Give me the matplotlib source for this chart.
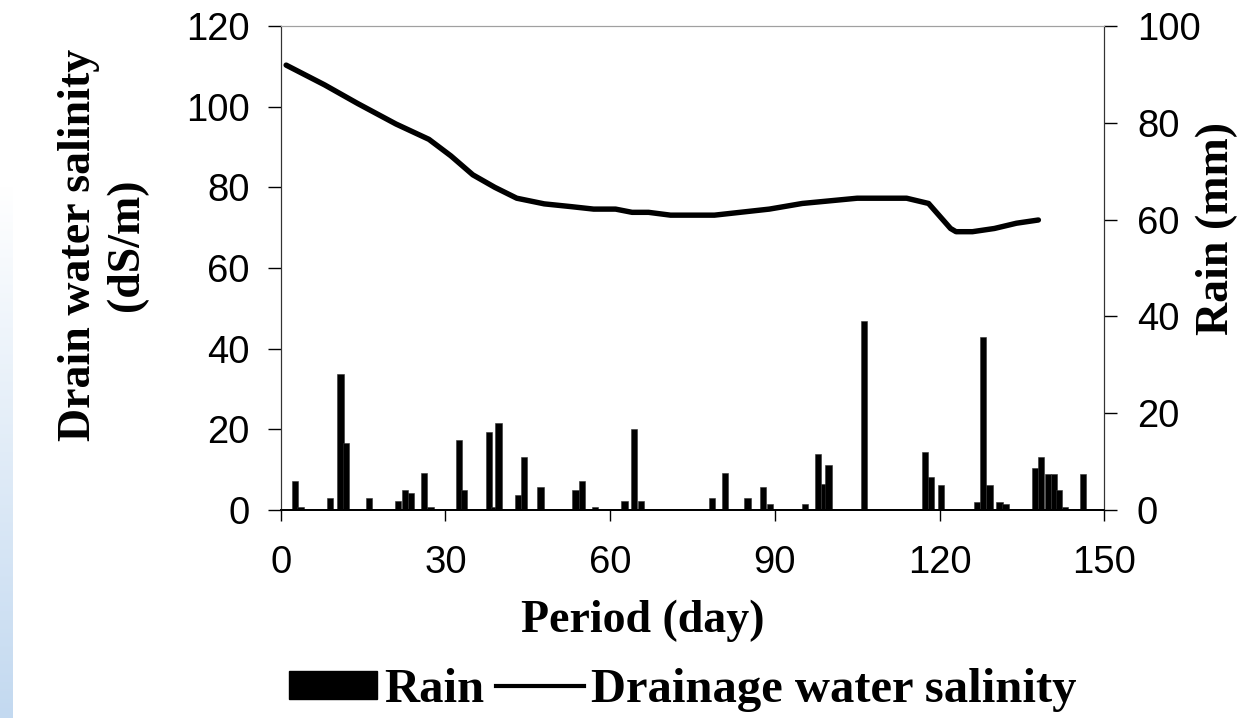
import matplotlib
matplotlib.use("Agg")
import matplotlib.pyplot as plt
import numpy as np
from matplotlib.patches import Patch
from matplotlib.lines import Line2D
from matplotlib.colors import LinearSegmentedColormap

# rain (mm), daily bars
rain_day = [2.6, 3.6, 9.0, 10.9, 11.95, 16.1, 21.4, 22.6, 23.8, 26.1, 27.3,
            32.5, 33.4, 37.9, 38.9, 39.7, 43.2, 44.3, 47.3, 53.7, 54.9, 57.3,
            62.6, 64.3, 65.6, 78.5, 80.9, 85.0, 87.9, 89.1, 95.5, 97.9, 98.9,
            99.8, 106.2, 117.3, 118.4, 120.3, 126.8, 127.9, 129.1, 130.9,
            132.0, 137.4, 138.5, 139.7, 140.8, 141.7, 142.8, 146.1]
rain_mm = [5.9, 0.7, 2.4, 28.2, 13.9, 2.4, 1.9, 4.1, 3.6, 7.6, 0.7,
           14.5, 4.1, 16.2, 0.7, 17.9, 3.0, 11.0, 4.7, 4.1, 5.9, 0.7,
           1.9, 16.8, 1.9, 2.4, 7.6, 2.4, 4.7, 1.2, 1.2, 11.6, 5.4,
           9.3, 39.1, 12.0, 6.9, 5.2, 1.7, 35.7, 5.2, 1.7,
           1.2, 8.6, 11.0, 7.4, 7.4, 4.1, 0.6, 7.4]

# drainage water salinity (dS/m)
sal_day = [1, 8, 14, 21, 27, 31, 35, 39, 43, 48, 53, 57, 61, 64, 67, 71,
           79, 89, 95, 105, 114, 118, 122, 123, 126, 130, 134, 138]
salinity = [110.3, 105.4, 100.8, 95.7, 91.9, 87.8, 83.1, 80.0, 77.3, 75.9,
            75.2, 74.6, 74.6, 73.8, 73.8, 73.1, 73.1, 74.6, 76.0, 77.3, 77.3,
            76.0, 69.8, 69.0, 69.0, 69.8, 71.1, 71.9]

fig = plt.figure(figsize=(12.58, 7.18), dpi=100)

# pale blue strip on the left edge
strip = fig.add_axes([0, 0, 13 / 1258, 0.74])
pale = LinearSegmentedColormap.from_list("pale", ["#c3d9f0", "#ffffff"])
grad = np.linspace(0, 1, 256).reshape(-1, 1)
strip.imshow(grad, aspect="auto", cmap=pale, origin="lower")
strip.set_axis_off()

ax = fig.add_axes([0.2231, 0.2897, 0.6547, 0.6741])
ax2 = ax.twinx()

ax2.bar(rain_day, rain_mm, width=1.15, color="black", edgecolor="#333333",
        linewidth=0.4)
ax.plot(sal_day, salinity, color="black", lw=3.9, solid_capstyle="round",
        solid_joinstyle="round")

ax.set_zorder(ax2.get_zorder() + 1)
ax.patch.set_visible(False)

ax.set_xlim(0, 150)
ax.set_ylim(0, 120)
ax2.set_ylim(0, 100)
ax.set_xticks([0, 30, 60, 90, 120, 150])
ax.set_yticks(range(0, 121, 20))
ax2.set_yticks(range(0, 101, 20))

for lab in ax.get_xticklabels() + ax.get_yticklabels() + ax2.get_yticklabels():
    lab.set_fontfamily("Liberation Sans")
    lab.set_fontsize(27.5)

ax.tick_params(axis="y", direction="out", length=9.5, width=1, pad=13)
ax.tick_params(axis="x", direction="out", length=8, width=1, pad=17)
ax2.tick_params(axis="y", direction="out", length=9.5, width=1, pad=14)

for a in (ax, ax2):
    a.spines["top"].set_color("#a0a0a0")
    a.spines["left"].set_color("#333333")
    a.spines["right"].set_color("#333333")
    a.spines["bottom"].set_color("black")
    a.spines["bottom"].set_linewidth(1.3)

lab_font = {"family": "Liberation Serif", "weight": "bold", "size": 33}
fig.text(0.082, 0.659, "Drain water salinity\n(dS/m)", rotation=90,
         ha="center", va="center", multialignment="center",
         linespacing=1.2, **lab_font)
fig.text(0.967, 0.682, "Rain (mm)", rotation=90, ha="center", va="center",
         **lab_font)
fig.text(0.511, 0.136, "Period (day)", ha="center", va="center", **lab_font)

handles = [Patch(facecolor="black", edgecolor="black"),
           Line2D([0], [0], color="black", lw=3)]
fig.legend(handles, ["Rain", "Drainage water salinity"], loc="center",
           bbox_to_anchor=(0.543, 0.039), ncol=2, frameon=False,
           prop={"family": "Liberation Serif", "weight": "bold", "size": 35},
           handlelength=1.8, handleheight=0.5, handletextpad=0.15,
           columnspacing=0.25)

fig.savefig("out.png", dpi=100)
